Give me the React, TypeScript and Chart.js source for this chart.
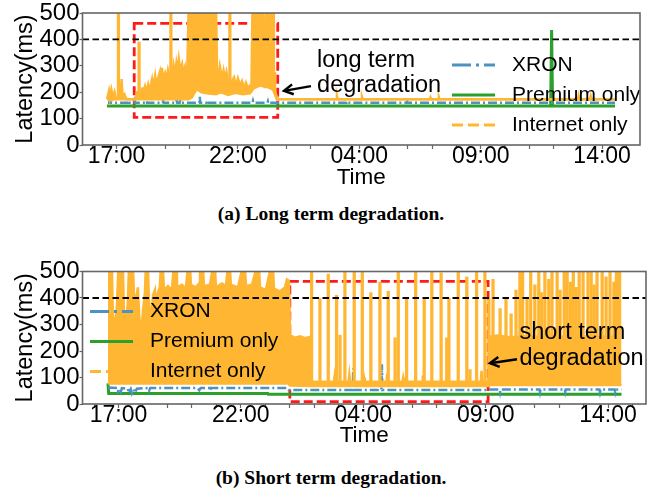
import React, { useEffect, useRef } from 'react';
import { Chart, registerables } from 'chart.js';

Chart.register(...registerables);

// ---------- shared labels / ticks ----------
const seriesNames = ['XRON', 'Premium only', 'Internet only'];
const timeTickLabels = ['17:00', '22:00', '04:00', '09:00', '14:00'];
const timeTickValues = [0, 5, 10, 15, 20];
const hourTickValues = [-1, 0, 1, 2, 3, 4, 5, 6, 7, 8, 9, 10, 11, 12, 13, 14, 15, 16, 17, 18, 19, 20, 21];
const latencyTicks = [0, 100, 200, 300, 400, 500];
const thresholdMs = 400;

// ---------- (a) long term degradation : [time, latency] ----------
const xronA = [
  [-0.35, 160], [-0.29, 160], [-0.27, 171], [-0.25, 160], [0.47, 160], [0.49, 168], [0.51, 160],
  [0.72, 160], [0.74, 167], [0.76, 160], [1.22, 160], [1.24, 166], [1.26, 160], [1.9, 160], [1.92, 166],
  [1.94, 160], [2.46, 160], [2.48, 168], [2.5, 160], [2.6, 160], [2.62, 169], [2.64, 160], [3.41, 160],
  [3.43, 182], [3.45, 160], [3.75, 160], [3.77, 167], [3.79, 160], [5.6, 160], [5.62, 167], [5.64, 160],
  [6.22, 160], [6.24, 166], [6.26, 160], [9.48, 160], [9.5, 165], [9.52, 160], [11.95, 160], [11.97, 164],
  [11.99, 160], [20.53, 160],
];
const premiumA = [[-0.39, 148], [17.88, 148], [17.92, 436], [17.96, 148], [20.53, 148]];
const internetUpperA = [
  [-0.39, 173], [-0.31, 205], [-0.27, 178], [-0.21, 210], [-0.14, 180], [-0.08, 200], [-0.02, 175],
  [0.16, 178], [0.21, 250], [0.25, 182], [0.33, 192], [0.41, 173], [0.8, 173], [0.84, 200], [1.01, 205],
  [1.05, 218], [1.09, 196], [1.17, 222], [1.22, 200], [1.3, 228], [1.34, 206], [1.42, 232], [1.46, 248],
  [1.5, 215], [1.59, 262], [1.63, 230], [1.71, 252], [1.79, 278], [1.83, 240], [1.87, 292], [1.92, 250],
  [2.0, 272], [2.06, 245], [2.12, 282], [2.18, 255], [2.29, 262], [2.35, 302], [2.41, 265], [2.47, 312],
  [2.53, 280], [2.57, 322], [2.62, 285], [2.7, 306], [2.74, 270], [2.82, 296], [2.86, 265], [2.92, 300],
  [2.97, 520], [3.04, 520], [3.09, 330], [3.14, 520], [3.22, 520], [3.27, 310], [3.32, 520], [4.1, 520],
  [4.14, 292], [4.22, 262], [4.26, 296], [4.35, 252], [4.41, 282], [4.47, 250], [4.53, 276], [4.59, 246],
  [4.76, 242], [4.84, 256], [4.92, 222], [5.0, 252], [5.09, 226], [5.17, 242], [5.25, 216], [5.33, 236],
  [5.42, 212], [5.5, 226], [5.56, 232], [5.6, 520], [5.81, 520], [5.86, 260], [5.91, 520], [6.05, 520],
  [6.11, 215], [6.17, 520], [6.45, 520], [6.48, 215], [6.57, 190], [6.65, 174], [9.05, 173], [9.08, 185],
  [9.11, 173], [10.08, 173], [10.11, 182], [10.14, 173], [12.9, 173], [12.93, 180], [12.96, 173],
  [13.25, 173], [13.28, 181], [13.31, 173], [19.0, 173], [19.03, 186], [19.06, 173], [19.5, 173],
  [19.53, 184], [19.56, 173], [20.53, 173],
];
const internetLowerA = [
  [-0.39, 173], [2.97, 173], [3.1, 180], [3.3, 212], [3.5, 200], [3.8, 195], [4.1, 192], [4.3, 200],
  [4.6, 190], [4.9, 198], [5.2, 192], [5.5, 196], [5.65, 215], [5.9, 225], [6.2, 220], [6.45, 210],
  [6.6, 173], [20.53, 173],
];
// [time, low, high]
const internetSpikesA = [[0.08, 173, 520], [0.93, 200, 390], [2.24, 255, 520], [4.67, 245, 520], [6.51, 200, 275]];

// ---------- (b) short term degradation ----------
const xronB = [
  [-0.43, 62], [-0.04, 60], [-0.02, 48], [0.06, 58], [0.1, 47], [0.14, 60], [0.38, 58], [0.42, 42],
  [0.5, 56], [0.55, 40], [0.62, 55], [0.68, 42], [0.75, 58], [1.2, 60], [1.25, 50], [1.3, 60], [3.24, 60],
  [3.3, 52], [3.36, 60], [3.7, 60], [3.74, 50], [3.78, 60], [6.9, 60], [6.95, 53], [9.57, 53], [9.59, 135],
  [9.61, 53], [10.74, 53], [10.76, 150], [10.78, 53], [15.15, 53], [15.2, 55], [15.57, 55], [15.59, 45],
  [15.61, 55], [17.2, 55], [17.22, 45], [17.24, 55], [18.23, 55], [18.25, 46], [18.27, 55], [19.65, 55],
  [19.67, 45], [19.69, 55], [20.27, 55], [20.29, 46], [20.31, 55], [20.55, 55],
];
const premiumB = [[-0.43, 78], [-0.4, 40], [6.1, 40], [6.12, 37], [20.55, 37]];
const internetUpperB = [
  [-0.43, 520], [-0.27, 520], [-0.23, 330], [-0.15, 300], [-0.07, 360], [0.0, 520], [0.18, 520],
  [0.22, 350], [0.3, 300], [0.38, 380], [0.43, 520], [0.59, 520], [0.63, 420], [0.71, 380], [0.79, 440],
  [0.85, 330], [0.92, 260], [1.0, 350], [1.08, 420], [1.12, 520], [1.2, 520], [1.24, 400], [1.32, 300],
  [1.41, 410], [1.49, 430], [1.53, 350], [1.61, 420], [1.69, 440], [1.73, 520], [1.81, 520], [1.86, 430],
  [2.02, 445], [2.18, 430], [2.26, 520], [2.35, 520], [2.39, 440], [2.59, 450], [2.75, 435], [2.84, 520],
  [2.92, 520], [2.96, 450], [3.16, 440], [3.29, 455], [3.33, 520], [3.45, 520], [3.49, 445], [3.74, 450],
  [3.86, 520], [3.94, 520], [3.98, 440], [4.23, 455], [4.39, 445], [4.47, 520], [4.55, 520], [4.59, 450],
  [4.88, 440], [5.08, 520], [5.16, 520], [5.21, 445], [5.45, 450], [5.66, 520], [5.74, 520], [5.78, 440],
  [6.02, 430], [6.23, 520], [6.31, 520], [6.35, 435], [6.59, 425], [6.8, 440], [6.88, 470], [6.96, 465],
  [7.01, 260], [7.21, 250], [7.42, 255], [7.62, 248], [7.78, 252], [7.84, 84], [8.8, 84], [8.83, 105],
  [8.86, 84], [9.4, 84], [9.43, 110], [9.46, 84], [10.0, 84], [10.03, 100], [10.06, 84], [10.95, 84],
  [10.98, 115], [11.01, 84], [11.6, 84], [11.63, 100], [11.66, 84], [12.4, 84], [12.43, 108], [12.46, 84],
  [13.4, 84], [13.43, 112], [13.46, 84], [14.2, 84], [14.23, 100], [14.26, 84], [14.8, 84], [14.83, 125],
  [14.86, 84], [15.12, 84], [15.2, 255], [15.5, 258], [16.0, 252], [16.6, 256], [17.2, 253], [17.8, 257],
  [18.4, 252], [19.0, 256], [19.6, 253], [20.2, 255], [20.3, 258], [20.33, 520], [20.55, 520],
];
const internetLowerB = [[-0.43, 77], [6.96, 77], [7.01, 70], [7.84, 68], [15.12, 68], [15.2, 72], [20.55, 72]];
const internetSpikesB = [
  [7.89, 80, 520], [8.23, 80, 398], [8.57, 80, 490], [8.91, 80, 410], [9.05, 80, 260], [9.25, 80, 520],
  [9.63, 80, 520], [9.96, 80, 520], [10.31, 80, 420], [10.68, 80, 460], [11.02, 80, 425], [11.3, 80, 250],
  [11.43, 80, 520], [11.77, 80, 400], [12.14, 80, 520], [12.49, 80, 395], [12.8, 80, 520], [13.18, 80, 495],
  [13.41, 80, 250], [13.5, 80, 400], [13.88, 80, 520], [14.23, 80, 480], [14.36, 80, 130], [14.63, 80, 520],
  [14.97, 80, 520], [15.13, 75, 400],
  [15.3, 250, 470], [15.59, 250, 360], [15.83, 250, 400], [16.04, 250, 340], [16.24, 250, 430],
  [16.4, 250, 520], [16.51, 250, 520], [16.69, 250, 400], [16.84, 250, 520], [17.01, 250, 450],
  [17.17, 250, 520], [17.29, 250, 420], [17.42, 250, 520], [17.58, 250, 470], [17.71, 250, 520],
  [17.92, 250, 520], [18.04, 250, 430], [18.21, 250, 520], [18.33, 250, 520], [18.46, 250, 460],
  [18.58, 250, 520], [18.7, 250, 440], [18.82, 250, 520], [18.98, 250, 520], [19.18, 250, 520],
  [19.31, 250, 520], [19.43, 250, 450], [19.55, 250, 520], [19.76, 250, 520], [19.92, 250, 480],
  [20.08, 250, 520], [20.24, 250, 460],
];

// ---------- styling ----------
const C = { xron: 'rgb(76,146,195)', premium: '#2ca02c', internet: '#ffb733' };
const FONT = '"Liberation Sans", Arial, Helvetica, sans-serif';

type Num2 = number[];
const toXY = (arr: Num2[]) => arr.map(([x, y]) => ({ x, y }));

interface Panel {
  xMin: number; xMax: number; padTop: number; padRight: number; xAxisH: number; titlePadB: number;
  xron: Num2[]; premium: Num2[]; upper: Num2[]; lower: Num2[]; spikes: Num2[];
  box: { x0: number; x1: number; y0: number; y1: number };
  note: { lines: string[]; tx: number; ty: number; lineH: number; tipX: number; tipY: number; tailX: number; tailY: number };
  legend: { fromRight: boolean; dx: number; dy: number };
}

const panelA: Panel = {
  xMin: -1.4, xMax: 21.56, padTop: 13, padRight: 22, xAxisH: 50, titlePadB: 3.5,
  xron: xronA, premium: premiumA, upper: internetUpperA, lower: internetLowerA, spikes: internetSpikesA,
  box: { x0: 0.73, x1: 6.64, y0: 105, y1: 461 },
  note: { lines: ['long term', 'degradation'], tx: 8.26, ty: 297, lineH: 25, tipX: 6.9, tipY: 205, tailX: 8.01, tailY: 223 },
  legend: { fromRight: true, dx: 188, dy: 52 },
};
const panelB: Panel = {
  xMin: -1.47, xMax: 21.55, padTop: 21.5, padRight: 16, xAxisH: 46, titlePadB: 0.5,
  xron: xronB, premium: premiumB, upper: internetUpperB, lower: internetLowerB, spikes: internetSpikesB,
  box: { x0: 7.0, x1: 15.1, y0: 9, y1: 463 },
  note: { lines: ['short term', 'degradation'], tx: 16.38, ty: 244, lineH: 26, tipX: 15.18, tipY: 154, tailX: 16.28, tailY: 169 },
  legend: { fromRight: false, dx: 7.5, dy: 40 },
};

const legendStyles = [
  { color: C.xron, dash: [19, 5, 3, 5] },
  { color: C.premium, dash: [] as number[] },
  { color: C.internet, dash: [11, 5] },
];

function overlay(p: Panel) {
  return {
    id: 'overlay',
    beforeDatasetsDraw(chart: any) {
      const { ctx, scales } = chart;
      const x = scales.x, y = scales.y;
      const l = x.getPixelForValue(p.box.x0), r = x.getPixelForValue(p.box.x1);
      const t = y.getPixelForValue(p.box.y1), b = y.getPixelForValue(p.box.y0);
      ctx.save();
      ctx.strokeStyle = '#ff1a1a';
      ctx.lineWidth = 2.8;
      ctx.setLineDash([9, 4]);
      ctx.strokeRect(l, t, r - l, b - t);
      ctx.restore();
    },
    afterDatasetsDraw(chart: any) {
      const { ctx, scales, chartArea } = chart;
      const x = scales.x, y = scales.y;
      ctx.save();
      // annotation text
      ctx.fillStyle = '#000';
      ctx.font = `23.5px ${FONT}`;
      ctx.textAlign = 'left';
      ctx.textBaseline = 'alphabetic';
      const tx = x.getPixelForValue(p.note.tx), ty = y.getPixelForValue(p.note.ty);
      p.note.lines.forEach((s, i) => ctx.fillText(s, tx, ty + i * p.note.lineH));
      // arrow
      const x1 = x.getPixelForValue(p.note.tailX), y1 = y.getPixelForValue(p.note.tailY);
      const x2 = x.getPixelForValue(p.note.tipX), y2 = y.getPixelForValue(p.note.tipY);
      ctx.strokeStyle = '#000';
      ctx.lineWidth = 2.5;
      ctx.setLineDash([]);
      ctx.lineCap = 'butt';
      ctx.beginPath();
      ctx.moveTo(x1, y1);
      ctx.lineTo(x2, y2);
      ctx.stroke();
      const dx = x2 - x1, dy = y2 - y1, len = Math.hypot(dx, dy);
      const ux = dx / len, uy = dy / len, nx = -uy, ny = ux;
      ctx.beginPath();
      ctx.moveTo(x2 - ux * 9 + nx * 5, y2 - uy * 9 + ny * 5);
      ctx.lineTo(x2, y2);
      ctx.lineTo(x2 - ux * 9 - nx * 5, y2 - uy * 9 - ny * 5);
      ctx.stroke();
      // legend
      const lx = p.legend.fromRight ? chartArea.right - p.legend.dx : chartArea.left + p.legend.dx;
      ctx.font = `21px ${FONT}`;
      ctx.textBaseline = 'middle';
      seriesNames.forEach((name, i) => {
        const ly = chartArea.top + p.legend.dy + i * 30;
        ctx.strokeStyle = legendStyles[i].color;
        ctx.lineWidth = 3;
        ctx.setLineDash(legendStyles[i].dash);
        ctx.beginPath();
        ctx.moveTo(lx, ly);
        ctx.lineTo(lx + 43, ly);
        ctx.stroke();
        ctx.fillStyle = '#000';
        ctx.fillText(name, lx + 60, ly);
      });
      ctx.restore();
    },
    afterDraw(chart: any) {
      const { ctx, chartArea: a } = chart;
      ctx.save();
      ctx.strokeStyle = '#666';
      ctx.lineWidth = 1.6;
      ctx.setLineDash([]);
      ctx.strokeRect(a.left, a.top, a.right - a.left, a.bottom - a.top);
      ctx.restore();
    },
  };
}

function makeConfig(p: Panel): any {
  return {
    type: 'line',
    data: {
      datasets: [
        { type: 'line', label: 'threshold', data: [{ x: p.xMin, y: thresholdMs }, { x: p.xMax, y: thresholdMs }],
          borderColor: '#000', borderWidth: 1.8, borderDash: [6.5, 3.5], pointRadius: 0, fill: false, clip: 0 },
        { type: 'line', label: seriesNames[2], data: toXY(p.upper), borderColor: C.internet, backgroundColor: C.internet,
          borderWidth: 2.5, pointRadius: 0, fill: '+1', clip: 0, tension: 0 },
        { type: 'line', label: seriesNames[2] + ' min', data: toXY(p.lower), borderColor: C.internet,
          borderWidth: 2.5, pointRadius: 0, fill: false, clip: 0 },
        { type: 'bar', label: seriesNames[2] + ' peaks', data: p.spikes.map(([x, lo, hi]) => ({ x, y: [lo, hi] })),
          backgroundColor: C.internet, borderWidth: 0, barThickness: 2.6, clip: 0 },
        { type: 'line', label: seriesNames[0], data: toXY(p.xron), borderColor: C.xron, borderWidth: 2.5,
          borderDash: [9, 3, 2, 3], pointRadius: 0, fill: false, clip: 0 },
        { type: 'line', label: seriesNames[1], data: toXY(p.premium), borderColor: C.premium, borderWidth: 3,
          pointRadius: 0, fill: false, clip: 0 },
      ],
    },
    options: {
      responsive: false,
      animation: false,
      devicePixelRatio: 1,
      events: [],
      layout: { padding: { top: p.padTop, right: p.padRight, left: 0, bottom: 0 } },
      plugins: { legend: { display: false }, tooltip: { enabled: false }, title: { display: false } },
      scales: {
        x: {
          type: 'linear', min: p.xMin, max: p.xMax, offset: false,
          afterBuildTicks: (s: any) => { s.ticks = hourTickValues.map((v) => ({ value: v })); },
          afterFit: (s: any) => { s.height = p.xAxisH; },
          ticks: {
            autoSkip: false, maxRotation: 0, minRotation: 0, color: '#000', padding: -3.5,
            font: { family: FONT, size: 23, lineHeight: 1 },
            callback: (v: number) => { const i = timeTickValues.indexOf(v); return i >= 0 ? timeTickLabels[i] : ''; },
          },
          grid: { drawOnChartArea: false, drawTicks: true, tickLength: 4, tickColor: '#666', tickWidth: 1.2, offset: false },
          border: { display: false },
          title: { display: true, text: 'Time', color: '#000', font: { family: FONT, size: 22.5, lineHeight: 1.2 },
            padding: { top: 0, bottom: p.titlePadB } },
        },
        y: {
          type: 'linear', min: 0, max: 500,
          afterBuildTicks: (s: any) => { s.ticks = latencyTicks.map((v) => ({ value: v })); },
          afterFit: (s: any) => { s.width = 82.5; },
          ticks: { autoSkip: false, color: '#000', padding: 0, font: { family: FONT, size: 24, lineHeight: 1 } },
          grid: { drawOnChartArea: false, drawTicks: true, tickLength: 3, tickColor: '#666', tickWidth: 1.2 },
          border: { display: false },
          title: { display: true, text: 'Latency(ms)', color: '#000', font: { family: FONT, size: 23.5, lineHeight: 1.2 },
            padding: { top: 11, bottom: 0 } },
        },
      },
    },
    plugins: [overlay(p)],
  };
}

export default function App() {
  const refA = useRef<HTMLCanvasElement>(null);
  const refB = useRef<HTMLCanvasElement>(null);
  useEffect(() => {
    const ca = new Chart(refA.current as HTMLCanvasElement, makeConfig(panelA));
    const cb = new Chart(refB.current as HTMLCanvasElement, makeConfig(panelB));
    return () => { ca.destroy(); cb.destroy(); };
  }, []);
  const cap: React.CSSProperties = {
    position: 'absolute', left: 0, width: 662, textAlign: 'center', color: '#000',
    font: 'bold 19.5px "Liberation Serif", "Times New Roman", serif', lineHeight: '24px',
  };
  return (
    <div style={{ position: 'absolute', left: 0, top: 0, width: 662, height: 489, background: '#fff', overflow: 'hidden' }}>
      <canvas ref={refA} width={662} height={195} style={{ position: 'absolute', left: 0, top: 0 }} />
      <div style={{ ...cap, top: 202 }}>(a) Long term degradation.</div>
      <canvas ref={refB} width={662} height={200} style={{ position: 'absolute', left: 0, top: 250 }} />
      <div style={{ ...cap, top: 466 }}>(b) Short term degradation.</div>
    </div>
  );
}
